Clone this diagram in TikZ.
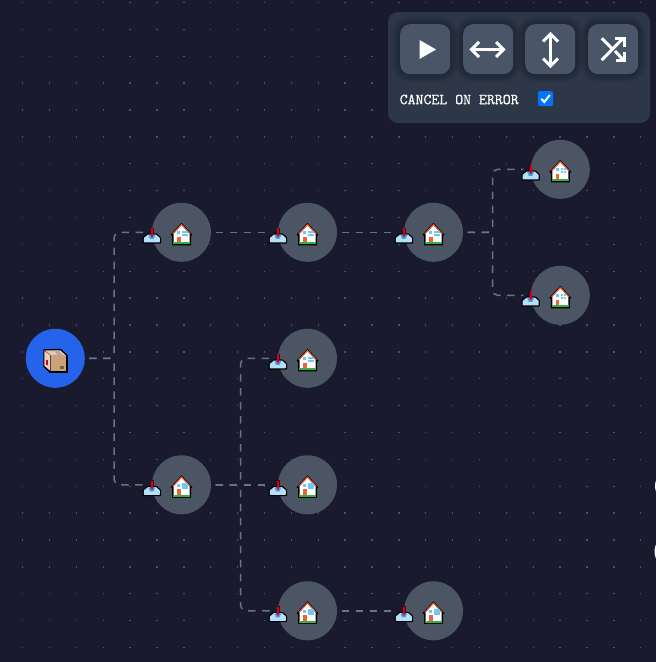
\documentclass[tikz,border=0pt]{standalone}
\usepackage{fontspec}
\newfontfamily\lblfont[FakeBold=0.6]{Latin Modern Mono}
\usetikzlibrary{calc}
\definecolor{bgc}{HTML}{1A1A2E}
\definecolor{dotc}{HTML}{50505F}
\definecolor{nodec}{HTML}{4B5563}
\definecolor{rootc}{HTML}{2563EB}
\definecolor{edgec}{HTML}{6B7280}
\definecolor{panelc}{HTML}{2D3748}
\definecolor{btnc}{HTML}{4A5568}
\definecolor{chkc}{HTML}{0075FF}
\definecolor{trayc}{HTML}{B5E0FA}
\definecolor{traymid}{HTML}{4A9CE0}
\definecolor{arrowc}{HTML}{D0021B}
\definecolor{roofc}{HTML}{F0603A}
\definecolor{lawnc}{HTML}{2FB344}
\definecolor{doorc}{HTML}{F0603A}
\definecolor{winc}{HTML}{6CC8F5}
\definecolor{boxf}{HTML}{C9A27C}
\definecolor{boxt}{HTML}{E4C8AE}
\definecolor{boxl}{HTML}{EBCFB8}
\definecolor{tapec}{HTML}{A9A9B0}
\tikzset{
  house/.style={circle,fill=nodec,minimum size=59pt,inner sep=0pt},
  rootnode/.style={circle,fill=rootc,minimum size=59pt,inner sep=0pt},
  edge/.style={draw=edgec,line width=1.5pt,rounded corners=5pt,dash pattern=on 7.5pt off 6.5pt},
  btn/.style={fill=btnc,rounded corners=10pt},
  ico/.style={draw=white,line width=3pt},
  houseicon/.pic={
    % inbox
    \fill[black,rounded corners=1pt] (-38.8,5) -- (-34,1) -- (-25,1) -- (-20.4,5) -- (-20.4,11.4) -- (-38.8,11.4) -- cycle;
    \fill[trayc,rounded corners=.5pt] (-37.6,5.6) -- (-33.4,2.2) -- (-25.6,2.2) -- (-21.6,5.6) -- (-21.6,10) -- (-37.6,10) -- cycle;
    \fill[traymid] (-33,2.6) -- (-26.2,2.6) -- (-28,6.6) -- (-31.5,6.6) -- cycle;
    \fill[black!70!red] (-31,-4.5) rectangle (-28,2);
    \fill[arrowc] (-30.2,-4) rectangle (-28.8,3);
    \fill[arrowc] (-31.3,2) -- (-27.7,2) -- (-29.5,5.2) -- cycle;
    % house
    \fill[black] (0,-9.5) -- (11,2.5) -- (9.5,3.5) -- (9.5,13) -- (-9.5,13) -- (-9.5,3.5) -- (-11,2.5) -- cycle;
    \fill[white] (0,-7.5) -- (8,1.5) -- (8,10.5) -- (-8,10.5) -- (-8,1.5) -- cycle;
    \draw[roofc,line width=1.2pt] (-8.6,1.6) -- (0,-7.6) -- (8.6,1.6);
    \fill[lawnc] (-8.4,10) rectangle (8.4,11.8);
    \fill[doorc] (-4.5,4.5) rectangle (-1,10);
    \fill[winc] (.5,-1.5) rectangle (3,1);
    \fill[winc] (3.5,-1.5) rectangle (6,1);
    \fill[winc] (.5,1.5) rectangle (3,4);
    \fill[winc] (3.5,1.5) rectangle (6,4);
    \fill[winc] (-4.5,-1) rectangle (-1.5,2);
  },
  boxicon/.pic={
    \fill[black] (-12,-9) -- (5.5,-9.5) -- (12.5,-3) -- (12.5,14.5) -- (-5.5,14.5) -- (-12,8.5) -- cycle;
    \fill[boxt] (-10.5,-8) -- (5,-8) -- (10.5,-3) -- (-4.5,-3) -- cycle;
    \fill[boxf] (-4.5,-3) rectangle (11,13);
    \fill[boxl] (-11,-7.5) -- (-5,-3) -- (-5,12.5) -- (-11,7.5) -- cycle;
    \fill[arrowc] (-9.5,2) rectangle (-7.5,6.5);
    \fill[tapec] (-1.5,-8) -- (3,-8) -- (7,-3.2) -- (2.5,-3.2) -- cycle;
    \fill[boxf!60!black] (5,7.5) rectangle (8.5,10.5);
  }
}
\newcommand{\hnode}[3]{%
  \node[house] (#1) at (#2,#3) {};
  \coordinate (#1-in) at ($(#1)+(-37,0)$);
  \coordinate (#1-out) at ($(#1)+(34,0)$);
}
\begin{document}
\begin{tikzpicture}[x=1pt,y=-1pt]
\useasboundingbox (0,0) rectangle (656,662);
\clip (0,0) rectangle (656,662);
\fill[bgc] (0,0) rectangle (656,662);
\foreach \i in {0,...,24}{\foreach \j in {0,...,24}{%
  \fill[dotc] ({22.7+26.87*\i-0.7},{2.56+26.87*\j-0.7}) rectangle ++(1.4,1.4);}}
% nodes
\node[rootnode] (root) at (55.3,358.3) {};
\coordinate (root-out) at (89,358.3);
\hnode{a}{181.5}{232.3}
\hnode{b}{307.5}{232.3}
\hnode{c}{433.5}{232.3}
\hnode{d}{560.3}{169.3}
\hnode{e}{560.3}{295.3}
\hnode{f}{307.5}{358.3}
\hnode{g}{181.5}{484.8}
\hnode{h}{307.5}{484.8}
\hnode{i}{307.5}{610.8}
\hnode{k}{433.5}{610.8}
\node[circle,fill=white,minimum size=32pt,inner sep=0pt] (o1) at (671,486) {};
\node[circle,fill=white,minimum size=34pt,inner sep=0pt] (o2) at (671.5,551.5) {};
% connectors
\draw[edge] (root-out) -- ++(25.2,0) |- (a-in);
\draw[edge] (root-out) -- ++(25.2,0) |- (g-in);
\draw[edge] (a-out) -- (b-in);
\draw[edge] (b-out) -- (c-in);
\draw[edge] (c-out) -- ++(25.2,0) |- (d-in);
\draw[edge] (c-out) -- ++(25.2,0) |- (e-in);
\draw[edge] (g-out) -- ++(25.2,0) |- (f-in);
\draw[edge] (g-out) -- (h-in);
\draw[edge] (g-out) -- ++(25.2,0) |- (i-in);
\draw[edge] (i-out) -- (k-in);
% icons
\foreach \n in {a,b,c,d,e,f,g,h,i,k}{\pic at (\n) {houseicon};}
\pic at (root) {boxicon};
% panel
\fill[panelc,rounded corners=10pt] (388,12) rectangle (650,123);
\foreach \bx/\nm in {400/p,463/q,525/r,588/s}{%
  \foreach \g/\op in {8/.05,6/.06,4/.07,2/.08}{%
    \fill[black,opacity=\op,rounded corners={10pt+\g pt}] (\bx-\g,24-\g) rectangle (\bx+50+\g,74+\g);}
  \node[btn,minimum size=50pt,inner sep=0pt,anchor=north west] (\nm) at (\bx,24) {};
}
% play
\fill[white] (419.5,40) -- (436,49.5) -- (419.5,59) -- cycle;
% left-right
\draw[ico] (472,49.5) -- (503,49.5);
\draw[ico] (479,42) -- (471.5,49.5) -- (479,57);
\draw[ico] (496,42) -- (503.5,49.5) -- (496,57);
% up-down
\draw[ico] (550.5,34) -- (550.5,65);
\draw[ico] (543,41.5) -- (550.5,34) -- (558,41.5);
\draw[ico] (543,58.5) -- (550.5,66) -- (558,58.5);
% shuffle
\draw[ico] (601.7,60) -- (623,38.5);
\draw[ico] (601.7,38.3) -- (611.7,48.3);
\draw[ico] (615,51) -- (623.3,60);
\draw[ico] (615,38.2) -- (624,38.2) -- (624,47);
\draw[ico] (624,51.7) -- (624,60.3) -- (615.7,60.3);
% checkbox row
\node[anchor=west,inner sep=0pt,text=white,font={\lblfont\fontsize{15.4}{16}\selectfont}] (lbl) at (399.5,99.5) {CANCEL ON ERROR};
\fill[chkc,rounded corners=2pt] (538,91) rectangle (553,106);
\draw[white,line width=2pt] (541.3,98.8) -- (544.3,102) -- (549.8,95);
\end{tikzpicture}
\end{document}
